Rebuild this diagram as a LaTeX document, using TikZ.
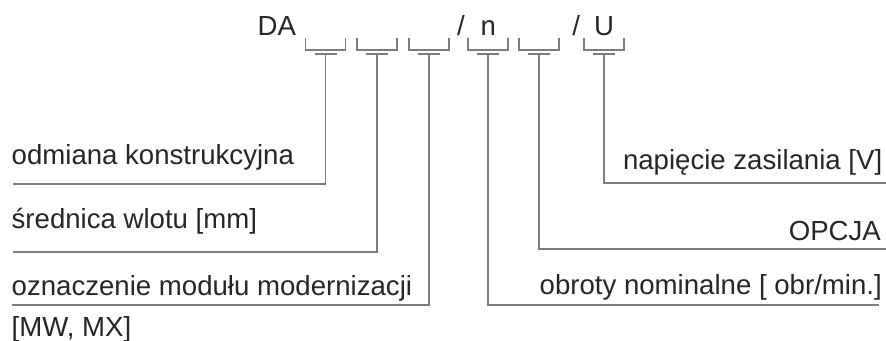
\documentclass[tikz,border=0pt]{standalone}
\usepackage{fontspec}
\setmainfont{Liberation Sans}
\definecolor{lncol}{RGB}{125,125,125}
\definecolor{txt}{RGB}{38,38,38}
\begin{document}
\begin{tikzpicture}[x=1pt,y=-1pt,
  lbl/.style={inner sep=0pt, font=\fontsize{27.6}{33}\selectfont, text=txt},
  ln/.style={draw=lncol, line width=1.7pt, line join=miter},
]
\useasboundingbox (0,0) rectangle (886,340);
% top code
\node[lbl, anchor=base west] (da) at (257.5,35.7) {DA};
\node[lbl, anchor=base] (sl1) at (461,35.7) {/};
\node[lbl, anchor=base] (nn) at (488.3,35.7) {n};
\node[lbl, anchor=base] (sl2) at (576.3,35.7) {/};
\node[lbl, anchor=base] (uu) at (604,35.7) {U};
% brackets
\foreach \i/\x in {1/325.5,2/377,3/429,4/488,5/539,6/604}{
  \coordinate (s\i) at (\x,54.3);
  \coordinate (bl\i) at (\x-20,38.3);
  \coordinate (br\i) at (\x+20,50);
  \coordinate (tl\i) at (\x-11,54.3);
  \coordinate (tr\i) at (\x+11,54.3);
  \draw[ln] (bl\i) |- (br\i) -- ++(0,-11.7);
  \draw[ln] (tl\i) -- (tr\i);
}
% left labels
\node[lbl, anchor=base west] (t1) at (11.5,164.5) {odmiana konstrukcyjna};
\node[lbl, anchor=base west] (t2) at (11.5,228.3) {średnica wlotu [mm]};
\node[lbl, anchor=base west] (t3) at (11.5,295) {oznaczenie modułu modernizacji};
\node[lbl, anchor=base west] (t3b) at (11.5,336) {[MW, MX]};
% right labels
\node[lbl, anchor=base east] (t6) at (882.5,169.3) {napięcie zasilania [V]};
\node[lbl, anchor=base east] (t5) at (881,240) {OPCJA};
\node[lbl, anchor=base east] (t4) at (882,294.7) {obroty nominalne [ obr/min.]};
% leader ends
\coordinate (e1) at (12.5,184.2);
\coordinate (e2) at (12.5,251.7);
\coordinate (e3) at (12,305);
\coordinate (e4) at (878.5,305.3);
\coordinate (e5) at (886,249.2);
\coordinate (e6) at (886,183);
\foreach \i in {1,...,6}{
  \draw[ln] (s\i) |- (e\i);
}
\end{tikzpicture}
\end{document}
